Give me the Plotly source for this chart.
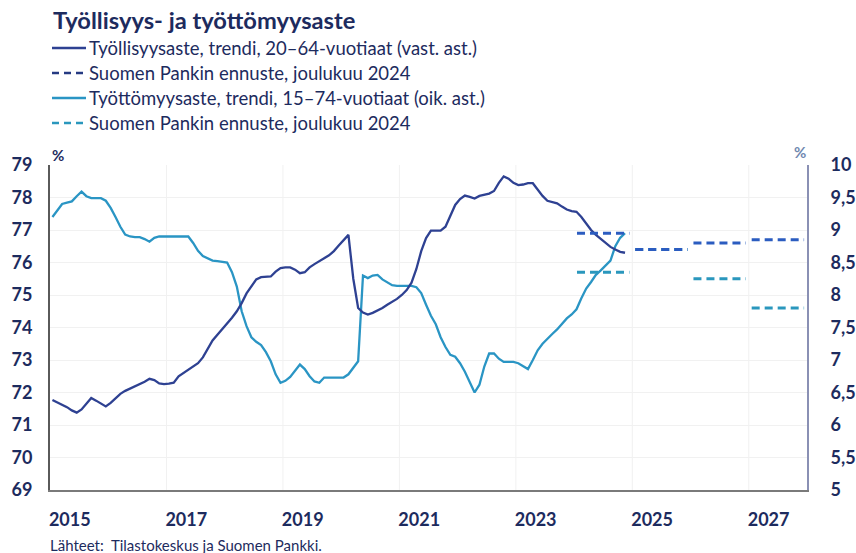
import plotly.graph_objects as go

# ---------------- data ----------------
start_year = 2015
employment = [
    71.77, 71.70, 71.62, 71.55, 71.45, 71.38, 71.48, 71.65, 71.83, 71.75, 71.65, 71.57,
    71.68, 71.82, 71.96, 72.05, 72.12, 72.17, 72.25, 72.33, 72.42, 72.38, 72.28, 72.26,
    72.27, 72.30, 72.50, 72.60, 72.68, 72.78, 72.90, 73.08, 73.35, 73.60, 73.78, 73.95,
    74.10, 74.30, 74.50, 74.75, 75.05, 75.28, 75.48, 75.55, 75.55, 75.57, 75.72, 75.83,
    75.85, 75.85, 75.78, 75.67, 75.70, 75.85, 75.95, 76.05, 76.13, 76.22, 76.35, 76.52,
    76.68, 76.85, 75.50, 74.60, 74.46, 74.40, 74.45, 74.52, 74.60, 74.70, 74.78, 74.88,
    75.00, 75.15, 75.38, 75.80, 76.35, 76.75, 76.98, 76.98, 76.98, 77.10, 77.45, 77.77,
    77.95, 78.06, 78.02, 77.97, 78.05, 78.08, 78.12, 78.20, 78.45, 78.65, 78.58, 78.45,
    78.38, 78.40, 78.44, 78.44, 78.25, 78.05, 77.90, 77.86, 77.82, 77.72, 77.63, 77.58,
    77.56, 77.40, 77.20, 77.00, 76.85, 76.72, 76.60, 76.48, 76.40, 76.33, 76.30,
]
unemployment = [
    9.20, 9.30, 9.40, 9.42, 9.44, 9.52, 9.59, 9.52, 9.49, 9.49, 9.49, 9.45,
    9.34, 9.20, 9.05, 8.93, 8.90, 8.89, 8.89, 8.86, 8.82, 8.88, 8.90, 8.90,
    8.90, 8.90, 8.90, 8.90, 8.90, 8.80, 8.68, 8.60, 8.56, 8.53, 8.52, 8.51,
    8.50, 8.35, 8.13, 7.75, 7.52, 7.35, 7.28, 7.23, 7.12, 6.98, 6.78, 6.65,
    6.68, 6.74, 6.83, 6.93, 6.86, 6.75, 6.67, 6.65, 6.73, 6.73, 6.73, 6.73,
    6.73, 6.78, 6.88, 6.98, 8.30, 8.26, 8.30, 8.31, 8.24, 8.19, 8.15, 8.14,
    8.14, 8.14, 8.14, 8.12, 8.03, 7.85, 7.68, 7.55, 7.35, 7.20, 7.08, 7.05,
    6.95, 6.82, 6.65, 6.50, 6.62, 6.90, 7.10, 7.10, 7.02, 6.97, 6.97, 6.97,
    6.95, 6.90, 6.86, 7.00, 7.15, 7.25, 7.33, 7.40, 7.47, 7.56, 7.64, 7.70,
    7.78, 7.95, 8.10, 8.20, 8.31, 8.38, 8.46, 8.53, 8.75, 8.88, 8.95,
]
forecast_years = [2024, 2025, 2026, 2027]
employment_forecast = [76.9, 76.4, 76.6, 76.7]
unemployment_forecast = [8.35, 8.7, 8.25, 7.8]

x_ticks = [2015, 2017, 2019, 2021, 2023, 2025, 2027]
left_ticks = [69, 70, 71, 72, 73, 74, 75, 76, 77, 78, 79]
right_ticks = [5, 5.5, 6, 6.5, 7, 7.5, 8, 8.5, 9, 9.5, 10]
right_labels = ["5", "5,5", "6", "6,5", "7", "7,5", "8", "8,5", "9", "9,5", "10"]

title = "Työllisyys- ja työttömyysaste"
names = [
    "Työllisyysaste, trendi, 20–64-vuotiaat (vast. ast.)",
    "Suomen Pankin ennuste, joulukuu 2024",
    "Työttömyysaste, trendi, 15–74-vuotiaat (oik. ast.)",
    "Suomen Pankin ennuste, joulukuu 2024",
]
source = "Lähteet:  Tilastokeskus ja Suomen Pankki."

# ---------------- styling ----------------
NAVY = "#1d2b5e"
EMP = "#2e4192"
EMP_FC = "#2b5cc0"
EMP_FC_KEY = "#253a82"
UNEMP = "#2a95c4"
UNEMP_FC = "#2a97bd"
FONT = "Lato"
W, H = 856, 553
ML, MR, MT, MB = 50, 49, 165, 63
PW, PH = W - ML - MR, H - MT - MB


def px_x(px):
    return (px - ML) / PW


def px_y(py):
    return (H - MB - py) / PH


x_emp = [start_year + (i + 0.5) / 12 for i in range(len(employment))]
x_un = [start_year + (i + 0.5) / 12 for i in range(len(unemployment))]


def segments(years, vals):
    xs, ys = [], []
    for yr, v in zip(years, vals):
        xs += [yr + 0.05, yr + 0.95, None]
        ys += [v, v, None]
    return xs, ys


fx_e, fy_e = segments(forecast_years, employment_forecast)
fx_u, fy_u = segments(forecast_years, unemployment_forecast)

# unemployment on base axis "y" (right side), employment on overlaying "y2" (left side, drawn on top)
fig = go.Figure()
fig.add_trace(go.Scatter(x=x_un, y=unemployment, mode="lines", name=names[2],
                         line=dict(color=UNEMP, width=2.3), yaxis="y"))
fig.add_trace(go.Scatter(x=fx_u, y=fy_u, mode="lines", name=names[3],
                         line=dict(color=UNEMP_FC, width=2.8, dash="8px,5px"), yaxis="y"))
fig.add_trace(go.Scatter(x=x_emp, y=employment, mode="lines", name=names[0],
                         line=dict(color=EMP, width=2.3), yaxis="y2"))
fig.add_trace(go.Scatter(x=fx_e, y=fy_e, mode="lines", name=names[1],
                         line=dict(color=EMP_FC, width=3, dash="8px,5px"), yaxis="y2"))

fig.update_layout(
    width=W, height=H,
    margin=dict(l=ML, r=MR, t=MT, b=MB, autoexpand=False),
    paper_bgcolor="white", plot_bgcolor="white",
    font=dict(family=FONT, color=NAVY),
    showlegend=False,
    xaxis=dict(range=[2015, 2028], tickmode="array",
               tickvals=[t + 0.34 for t in x_ticks], ticktext=[str(t) for t in x_ticks],
               showgrid=False, zeroline=False, showline=True, linecolor="#7a7a7a",
               linewidth=2, ticks="", ticklabelstandoff=12,
               tickfont=dict(family=FONT, size=18, color=NAVY, weight="bold")),
    yaxis=dict(range=[5, 10], tickmode="array", tickvals=right_ticks, ticktext=right_labels,
               side="right", showgrid=True, gridcolor="#f1f1f1", gridwidth=1,
               zeroline=False, showline=True, linecolor="#8a90b4", linewidth=2, ticks="",
               ticklabelstandoff=18,
               tickfont=dict(family=FONT, size=18, color=NAVY, weight="bold")),
    yaxis2=dict(range=[69, 79], tickmode="array", tickvals=left_ticks,
                overlaying="y", side="left", showgrid=False, zeroline=False,
                showline=True, linecolor="#5a5a5a", linewidth=2, ticks="",
                ticklabelstandoff=12,
                tickfont=dict(family=FONT, size=18, color=NAVY, weight="bold")),
)

# faint vertical grid lines at odd-year boundaries
for yr in x_ticks[1:]:
    fig.add_vline(x=yr, line=dict(color="#f1f1f1", width=1), layer="below")

# legend drawn as keys + labels
key_colors = [EMP, EMP_FC_KEY, UNEMP, UNEMP_FC]
key_dash = ["solid", "7px,5px", "solid", "7px,5px"]
row_y = [48, 73, 98, 123]
for name, col, dsh, ry in zip(names, key_colors, key_dash, row_y):
    fig.add_shape(type="line", xref="paper", yref="paper",
                  x0=px_x(52), x1=px_x(86), y0=px_y(ry), y1=px_y(ry),
                  line=dict(color=col, width=2.5, dash=dsh))
    fig.add_annotation(text=name, xref="paper", yref="paper", x=px_x(87), y=px_y(ry),
                       xanchor="left", yanchor="middle", showarrow=False,
                       font=dict(family=FONT, size=18.5, color=NAVY))

fig.add_annotation(text=title, xref="paper", yref="paper", x=px_x(51), y=px_y(20),
                   xanchor="left", yanchor="middle", showarrow=False,
                   font=dict(family=FONT, size=23.7, color=NAVY, weight="bold"))
fig.add_annotation(text="%", xref="paper", yref="paper", x=0, y=px_y(155),
                   xanchor="left", yanchor="middle", showarrow=False,
                   font=dict(family=FONT, size=15, color=NAVY, weight="bold"))
fig.add_annotation(text="%", xref="paper", yref="paper", x=px_x(808), y=px_y(152),
                   xanchor="right", yanchor="middle", showarrow=False,
                   font=dict(family=FONT, size=15, color="#7088b0", weight="bold"))
fig.add_annotation(text=source, xref="paper", yref="paper",
                   x=px_x(48), y=px_y(545), xanchor="left", yanchor="middle",
                   showarrow=False, font=dict(family=FONT, size=15, color=NAVY))

fig.write_html("out.html", config={"displayModeBar": False},
               post_script="document.body.style.margin='0px';document.body.style.overflow='hidden';")
